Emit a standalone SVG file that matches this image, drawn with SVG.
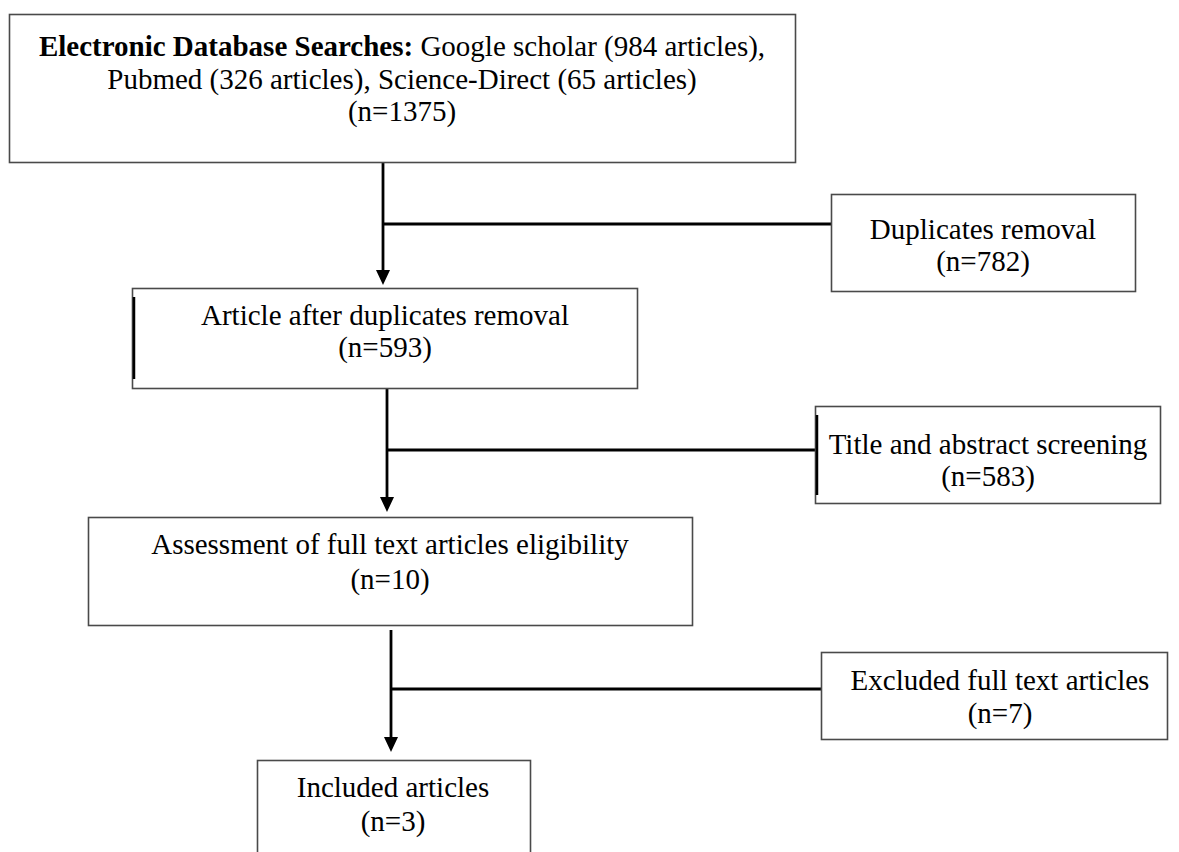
<svg xmlns="http://www.w3.org/2000/svg" width="1179" height="852" viewBox="0 0 1179 852">
<style>
.box{fill:#fff;stroke:#4a4a4a;stroke-width:1.6}
.t{font-family:"Liberation Serif","Times New Roman",serif;font-size:29px;fill:#000;text-anchor:middle}
.b{font-weight:bold}
.c{stroke:#000;stroke-width:2.8;fill:none}
.edge{stroke:#000;stroke-width:2.5}
.head{fill:#000}
</style>
<rect width="1179" height="852" fill="#fff"/>
<g id="connectors">
<line class="c" x1="383" y1="162" x2="383" y2="271"/>
<path class="head" d="M376,270 L390,270 L383,285 Z"/>
<line class="c" x1="383" y1="224" x2="831" y2="224"/>
<line class="c" x1="387" y1="389" x2="387" y2="498"/>
<path class="head" d="M380,497 L394,497 L387,512 Z"/>
<line class="c" x1="387" y1="450" x2="815" y2="450"/>
<line class="c" x1="391" y1="630" x2="391" y2="738"/>
<path class="head" d="M384,737 L398,737 L391,752 Z"/>
<line class="c" x1="391" y1="689" x2="821" y2="689"/>
</g>
<g id="search">
<rect class="box" x="9.5" y="14.5" width="786" height="148"/>
<text class="t" x="402" y="56"><tspan class="b">Electronic Database Searches:</tspan> Google scholar (984 articles),</text>
<text class="t" x="402" y="89">Pubmed (326 articles), Science-Direct (65 articles)</text>
<text class="t" x="402" y="121">(n=1375)</text>
</g>
<g id="duplicates">
<rect class="box" x="831.5" y="194.5" width="304" height="97"/>
<text class="t" x="983" y="239">Duplicates removal</text>
<text class="t" x="983" y="271">(n=782)</text>
</g>
<g id="after-duplicates">
<rect class="box" x="132.5" y="288.5" width="505" height="100"/>
<line class="edge" x1="134" y1="297" x2="134" y2="379"/>
<text class="t" x="385" y="325">Article after duplicates removal</text>
<text class="t" x="385" y="357">(n=593)</text>
</g>
<g id="screening">
<rect class="box" x="815.5" y="406.5" width="345" height="97"/>
<line class="edge" x1="817" y1="415" x2="817" y2="495"/>
<text class="t" x="988" y="454">Title and abstract screening</text>
<text class="t" x="988" y="486">(n=583)</text>
</g>
<g id="assessment">
<rect class="box" x="88.5" y="517.5" width="604" height="108"/>
<text class="t" x="390" y="554">Assessment of full text articles eligibility</text>
<text class="t" x="390" y="589">(n=10)</text>
</g>
<g id="excluded">
<rect class="box" x="821.5" y="652.5" width="346" height="87"/>
<text class="t" x="1000" y="690">Excluded full text articles</text>
<text class="t" x="1000" y="723">(n=7)</text>
</g>
<g id="included">
<rect class="box" x="257.5" y="760.5" width="273" height="100"/>
<text class="t" x="393" y="797">Included articles</text>
<text class="t" x="393" y="831">(n=3)</text>
</g>
</svg>
